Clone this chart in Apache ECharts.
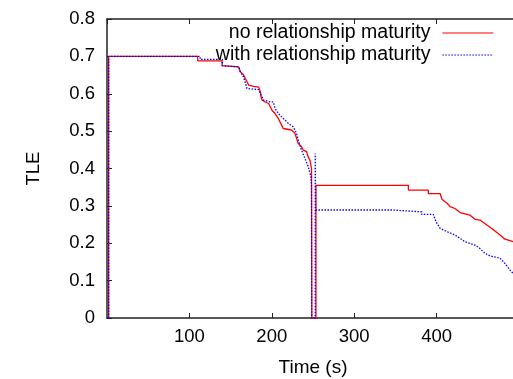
<!DOCTYPE html>
<html>
<head>
<meta charset="utf-8">
<script src="https://cdn.jsdelivr.net/npm/echarts@6/dist/echarts.min.js"></script>
<style>
  html, body { margin: 0; padding: 0; background: #fff; }
  #main { width: 513px; height: 379px; }
</style>
</head>
<body>
<div id="main"></div>
<script>
// series names
const names = ['no relationship maturity', 'with relationship maturity'];

// [time (s), TLE]
const noMaturity = [
  [2, 0], [2, 0.7], [110, 0.7], [110, 0.688], [139.6, 0.688], [139.6, 0.675],
  [159.8, 0.672], [161.8, 0.659], [165.8, 0.650], [167.9, 0.641], [169.9, 0.632],
  [171.9, 0.623], [177.9, 0.620], [184, 0.618], [186.1, 0.605], [186.9, 0.592],
  [188.1, 0.583], [192.1, 0.578], [196.1, 0.574], [200.2, 0.556], [203.9, 0.547],
  [207.9, 0.534], [211.9, 0.516], [213.9, 0.507], [224, 0.503], [228.1, 0.494],
  [232.1, 0.467], [236.1, 0.458], [238.2, 0.449], [242.2, 0.445], [244.2, 0.431],
  [246.3, 0.422], [248.2, 0.400], [248.6, 0], [253.6, 0], [253.6, 0.355],
  [365.8, 0.355], [365.8, 0.342], [390, 0.342], [390, 0.333], [404.2, 0.333],
  [406.7, 0.317], [412.7, 0.307], [416.4, 0.298], [422.4, 0.293], [428.5, 0.282],
  [440.6, 0.275], [446.7, 0.264], [452.7, 0.262], [468.5, 0.237], [477, 0.222],
  [483, 0.211], [489.1, 0.207], [493, 0.204], [496, 0.200]
];

const withMaturity = [
  [2, 0], [2, 0.7], [113, 0.7], [113, 0.692], [140, 0.692], [140, 0.675],
  [159.8, 0.672], [161.8, 0.659], [165.8, 0.645], [169.9, 0.614], [184, 0.611],
  [186.1, 0.601], [190.1, 0.583], [198.2, 0.578], [201.8, 0.578], [203.9, 0.561],
  [207.9, 0.547], [213.9, 0.534], [220, 0.521], [226.1, 0.511], [230.1, 0.494],
  [232.1, 0.476], [236.1, 0.449], [240.2, 0.427], [244.2, 0.405], [247.5, 0.378],
  [248.2, 0.351], [248.4, 0], [252.7, 0], [252.7, 0.44], [253.2, 0.289],
  [345.7, 0.289], [345.7, 0.284], [382, 0.284], [382, 0.277], [396, 0.277],
  [399.4, 0.257], [404.2, 0.240], [412.7, 0.231], [422.4, 0.222], [434.5, 0.204],
  [446.7, 0.195], [452.7, 0.186], [458.8, 0.173], [464.8, 0.166], [477, 0.160],
  [483, 0.146], [489.1, 0.128], [493, 0.119], [496, 0.112]
];

const font = 'Liberation Sans';
const axisColor = '#222';

var myChart = echarts.init(document.getElementById('main'));
var option = {
  animation: false,
  textStyle: { fontFamily: font },
  grid: { left: 107, right: -6, top: 19, bottom: 61, outerBoundsMode: 'none' },
  legend: {
    orient: 'vertical',
    right: 19,
    top: 23,
    padding: 0,
    align: 'right',
    itemWidth: 51,
    itemHeight: 14,
    itemGap: 2,
    itemStyle: { opacity: 0 },
    lineStyle: { width: 1.2 },
    textStyle: { fontFamily: font, fontSize: 19.5, color: '#000', lineHeight: 19, padding: [0, 7, 0, 0] },
    data: names
  },
  xAxis: [
    {
      type: 'value',
      min: 0, max: 500, interval: 100,
      name: 'Time (s)',
      nameLocation: 'middle',
      nameGap: 40,
      nameTextStyle: { fontFamily: font, fontSize: 19, color: '#000' },
      axisLine: { show: true, lineStyle: { color: axisColor, width: 1.5 } },
      axisTick: { show: true, inside: true, length: 5, lineStyle: { color: axisColor } },
      axisLabel: { fontFamily: font, fontSize: 18.5, color: '#000', margin: 9, showMinLabel: false, showMaxLabel: false },
      splitLine: { show: false }
    },
    {
      type: 'value',
      position: 'top',
      min: 0, max: 500, interval: 100,
      axisLine: { show: true, onZero: false, lineStyle: { color: axisColor, width: 1.5 } },
      axisTick: { show: true, inside: true, length: 5, lineStyle: { color: axisColor } },
      axisLabel: { show: false },
      splitLine: { show: false }
    }
  ],
  yAxis: {
    type: 'value',
    min: 0, max: 0.8, interval: 0.1,
    name: 'TLE',
    nameLocation: 'middle',
    nameRotate: 90,
    nameGap: 64,
    nameTextStyle: { fontFamily: font, fontSize: 18.5, color: '#000' },
    axisLine: { show: true, lineStyle: { color: axisColor, width: 1.5 } },
    axisTick: { show: true, inside: true, length: 5, lineStyle: { color: axisColor } },
    axisLabel: { fontFamily: font, fontSize: 18.5, color: '#000', margin: 12 },
    splitLine: { show: false }
  },
  series: [
    {
      name: names[0],
      type: 'line',
      data: noMaturity,
      symbol: 'none',
      lineStyle: { color: '#ff0000', width: 1.3 },
      itemStyle: { color: '#ff0000' }
    },
    {
      name: names[1],
      type: 'line',
      data: withMaturity,
      symbol: 'none',
      lineStyle: { color: '#0000ff', width: 1.3, type: [1.5, 1.5] },
      itemStyle: { color: '#0000ff' }
    }
  ]
};
myChart.setOption(option);
</script>
</body>
</html>
